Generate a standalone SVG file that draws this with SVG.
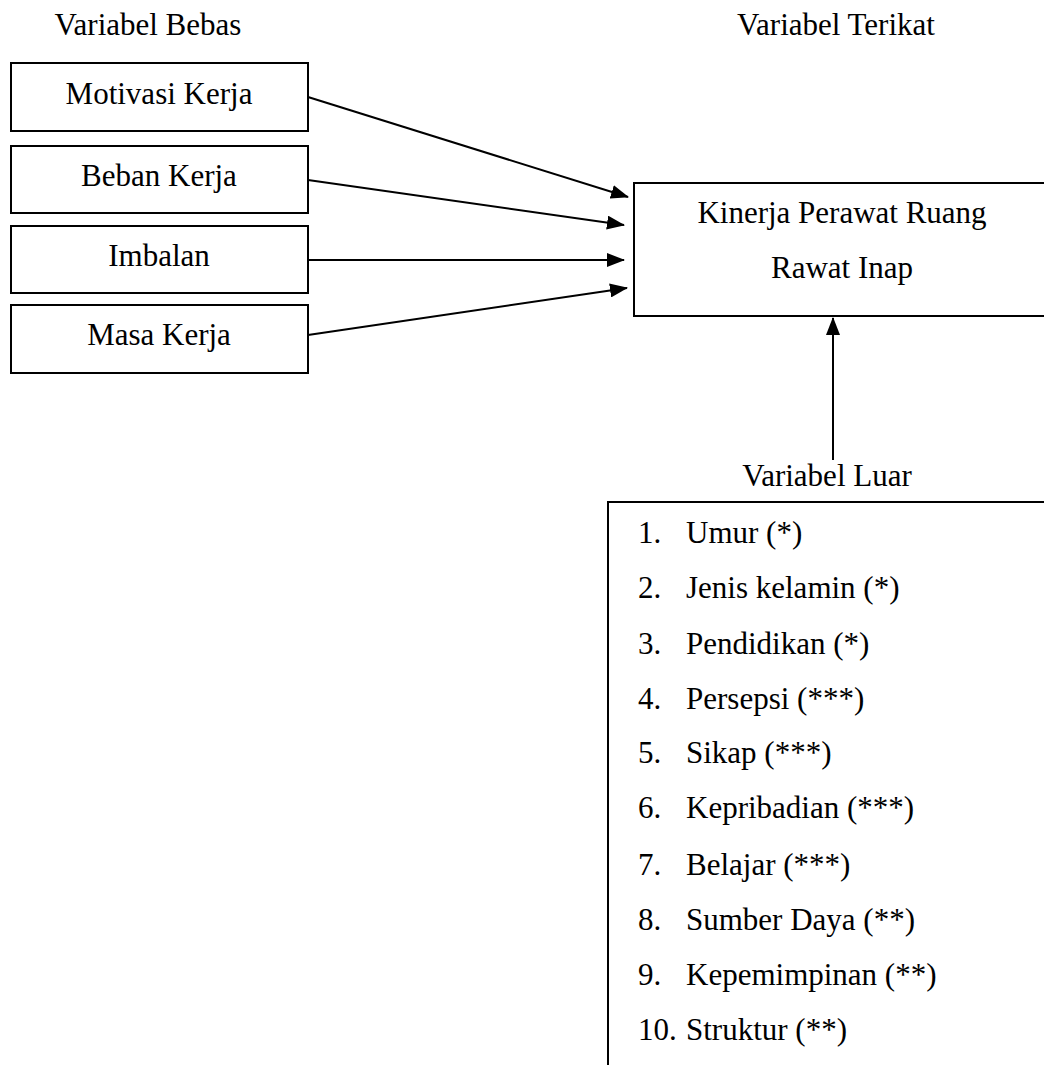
<svg xmlns="http://www.w3.org/2000/svg" width="1044" height="1065" viewBox="0 0 1044 1065">
<style>
text{font-family:"Liberation Serif","Times New Roman",serif;font-size:31px;fill:#000}
.box{fill:#fff;stroke:#000;stroke-width:2}
.c{text-anchor:middle}
.edge{stroke:#000;stroke-width:2;fill:none;marker-end:url(#ah)}
</style>
<defs>
<marker id="ah" markerUnits="userSpaceOnUse" markerWidth="18" markerHeight="14" refX="17" refY="7" orient="auto">
<path d="M0,0 L18,7 L0,14 Z" fill="#000"/>
</marker>
</defs>
<rect width="1044" height="1065" fill="#fff"/>
<text class="c" x="148" y="35">Variabel Bebas</text>
<text class="c" x="836" y="35">Variabel Terikat</text>
<g id="motivasi"><rect class="box" x="11" y="63" width="297" height="68"/><text class="c" x="159" y="104">Motivasi Kerja</text></g>
<g id="beban"><rect class="box" x="11" y="146" width="297" height="67"/><text class="c" x="159" y="186">Beban Kerja</text></g>
<g id="imbalan"><rect class="box" x="11" y="226" width="297" height="67"/><text class="c" x="159" y="266">Imbalan</text></g>
<g id="masa"><rect class="box" x="11" y="305" width="297" height="68"/><text class="c" x="159" y="345">Masa Kerja</text></g>
<g id="kinerja"><rect class="box" x="634" y="183" width="420" height="133"/><text class="c" x="842" y="223">Kinerja Perawat Ruang</text><text class="c" x="842" y="278">Rawat Inap</text></g>
<g id="luar">
<text class="c" x="827" y="486">Variabel Luar</text>
<path class="box" d="M1050 502 H608 V1070" fill="none"/>
<text x="638" y="543">1.</text><text x="686" y="543">Umur (*)</text>
<text x="638" y="598">2.</text><text x="686" y="598">Jenis kelamin (*)</text>
<text x="638" y="654">3.</text><text x="686" y="654">Pendidikan (*)</text>
<text x="638" y="709">4.</text><text x="686" y="709">Persepsi (***)</text>
<text x="638" y="763">5.</text><text x="686" y="763">Sikap (***)</text>
<text x="638" y="818">6.</text><text x="686" y="818">Kepribadian (***)</text>
<text x="638" y="875">7.</text><text x="686" y="875">Belajar (***)</text>
<text x="638" y="930">8.</text><text x="686" y="930">Sumber Daya (**)</text>
<text x="638" y="985">9.</text><text x="686" y="985">Kepemimpinan (**)</text>
<text x="638" y="1040">10.</text><text x="686" y="1040">Struktur (**)</text>
</g>
<g id="connectors">
<line class="edge" x1="308" y1="97" x2="628" y2="197"/>
<line class="edge" x1="308" y1="180" x2="624" y2="225"/>
<line class="edge" x1="308" y1="260" x2="624" y2="260"/>
<line class="edge" x1="308" y1="335" x2="627" y2="288"/>
<line class="edge" x1="833" y1="460" x2="833" y2="318"/>
</g>
</svg>
